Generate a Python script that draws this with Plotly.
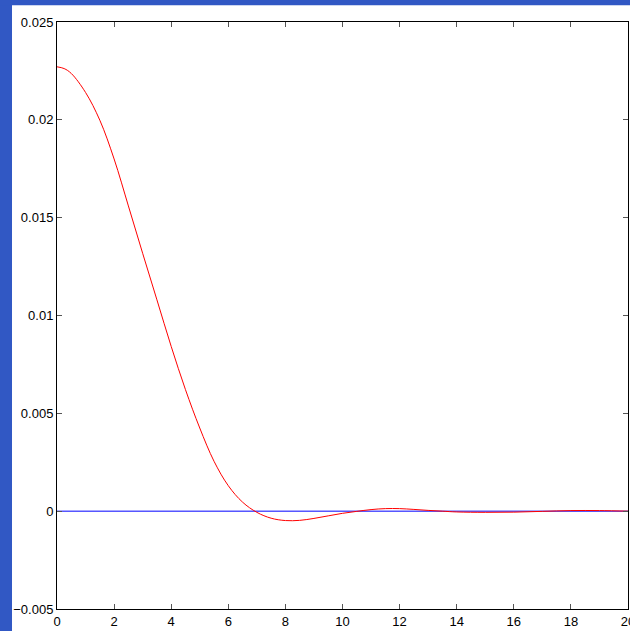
import plotly.graph_objects as go

# data
x_vals = [0, 0.25, 0.5, 1, 1.5, 2, 2.5, 3, 3.5, 4, 4.5, 5, 5.5, 6, 6.5, 7, 7.5, 8, 8.5, 9, 9.5,
          10, 10.5, 11, 11.5, 12, 12.5, 13, 13.5, 14, 15, 16, 17, 18, 19, 20]
y_vals = [0.02271, 0.02262, 0.02237, 0.02140, 0.01998, 0.01800, 0.01560, 0.01318, 0.01080,
          0.00842, 0.00621, 0.00425, 0.00255, 0.00130, 0.00046, -0.00006, -0.00036, -0.00048,
          -0.00047, -0.00037, -0.00024, -0.00011, -0.00001, 0.00008, 0.00013, 0.00013,
          0.00009, 0.00004, 0.0, -0.00004, -0.00006, -0.00005, -0.00001, 0.00003, 0.00003,
          0.0]
zero_x = [0, 20]
zero_y = [0, 0]

x_ticks = [0, 2, 4, 6, 8, 10, 12, 14, 16, 18, 20]
y_ticks = [-0.005, 0, 0.005, 0.01, 0.015, 0.02, 0.025]
y_ticklabels = ["\u22120.005", "0", "0.005", "0.01", "0.015", "0.02", "0.025"]

BLUE_BG = "#3158c4"

fig = go.Figure()
fig.add_trace(go.Scatter(x=zero_x, y=zero_y, mode="lines",
                         line=dict(color="#0000ff", width=1), hoverinfo="skip"))
fig.add_trace(go.Scatter(x=x_vals, y=y_vals, mode="lines",
                         line=dict(color="#ff0000", width=1, shape="spline", smoothing=1),
                         hoverinfo="skip"))

axis_common = dict(showgrid=False, zeroline=False, showline=True, linecolor="black",
                   linewidth=1, mirror="ticks", ticks="inside", ticklen=5,
                   tickcolor="#555555", tickwidth=1, ticklabeloverflow="allow",
                   automargin=False,
                   tickfont=dict(family="Liberation Sans, Arial, sans-serif", size=13,
                                 color="black"))

fig.update_layout(
    width=630, height=631,
    margin=dict(l=57, r=2, t=22, b=22),
    paper_bgcolor="white",
    plot_bgcolor="white",
    showlegend=False,
    xaxis=dict(range=[0, 20], tickvals=x_ticks, **axis_common),
    yaxis=dict(range=[-0.005, 0.025], tickvals=y_ticks, ticktext=y_ticklabels,
               **axis_common),
    shapes=[
        dict(type="rect", xref="paper", yref="paper", x0=-0.2, x1=-0.0788, y0=-0.1, y1=1.1,
             fillcolor=BLUE_BG, line=dict(width=0), layer="below"),
        dict(type="rect", xref="paper", yref="paper", x0=-0.2, x1=1.1, y0=1.0286, y1=1.1,
             fillcolor=BLUE_BG, line=dict(width=0), layer="below"),
    ],
)

fig.write_html("out.html", config={"displayModeBar": False},
               post_script="document.body.style.margin='0';document.body.style.overflow='hidden';")
